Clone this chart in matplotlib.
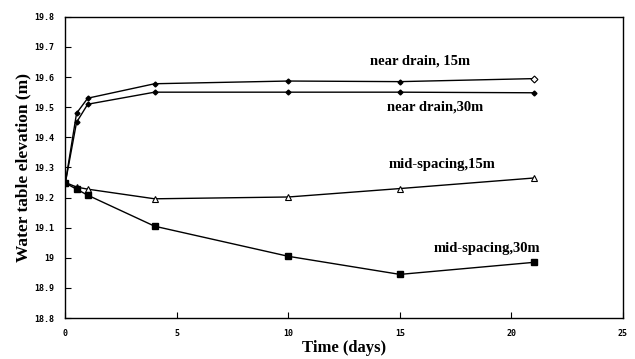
import matplotlib
matplotlib.use("Agg")
import matplotlib.pyplot as plt
from matplotlib.ticker import FuncFormatter

# days since start
days = [0, 0.5, 1, 4, 10, 15, 21]

near_15 = [19.25, 19.48, 19.53, 19.578, 19.587, 19.585, 19.595]
near_30 = [19.25, 19.45, 19.51, 19.55, 19.55, 19.55, 19.548]
mid_15 = [19.25, 19.235, 19.228, 19.196, 19.202, 19.23, 19.265]
mid_30 = [19.248, 19.228, 19.208, 19.105, 19.005, 18.945, 18.985]

labels = ["near drain, 15m", "near drain,30m", "mid-spacing,15m", "mid-spacing,30m"]
label_pos = [(15.9, 19.655), (16.6, 19.5), (16.9, 19.31), (18.9, 19.03)]

fig = plt.figure(figsize=(6.35, 3.59), dpi=100)
ax = fig.add_axes([0.103, 0.114, 0.878, 0.839])

lw = 1.0
ax.plot(days, near_15, color="black", lw=lw, marker="D", ms=2.5, mfc="black")
# last point of this series is an open diamond
ax.plot(days[-1:], near_15[-1:], ls="none", marker="D", ms=3.5, mfc="white", mec="black", mew=0.8)
ax.plot(days, near_30, color="black", lw=lw, marker="D", ms=2.5, mfc="black")
ax.plot(days, mid_15, color="black", lw=lw, marker="^", ms=4, mfc="white", mec="black", mew=0.8)
ax.plot(days, mid_30, color="black", lw=lw, marker="s", ms=4, mfc="black")

for txt, (x, y) in zip(labels, label_pos):
    ax.text(x, y, txt, ha="center", va="center", fontsize=10.5,
            family="Liberation Serif", fontweight="bold")

ax.set_xlim(0, 25)
ax.set_ylim(18.8, 19.8)
ax.set_xticks([0, 5, 10, 15, 20, 25])
ax.set_yticks([18.8, 18.9, 19.0, 19.1, 19.2, 19.3, 19.4, 19.5, 19.6, 19.7, 19.8])
ax.yaxis.set_major_formatter(FuncFormatter(lambda v, p: f"{v:g}"))
ax.tick_params(direction="in", length=4, width=0.8, top=False, right=False, pad=8)
for lab in ax.get_xticklabels() + ax.get_yticklabels():
    lab.set_family("DejaVu Sans Mono")
    lab.set_fontweight("bold")
    lab.set_fontsize(6)

for sp in ax.spines.values():
    sp.set_linewidth(1.0)

ax.set_xlabel("Time (days)", family="Liberation Serif", fontweight="bold", fontsize=12, labelpad=1)
ax.set_ylabel("Water table elevation (m)", family="Liberation Serif", fontweight="bold", fontsize=12.5, labelpad=2)

fig.savefig("out.png", dpi=100)
